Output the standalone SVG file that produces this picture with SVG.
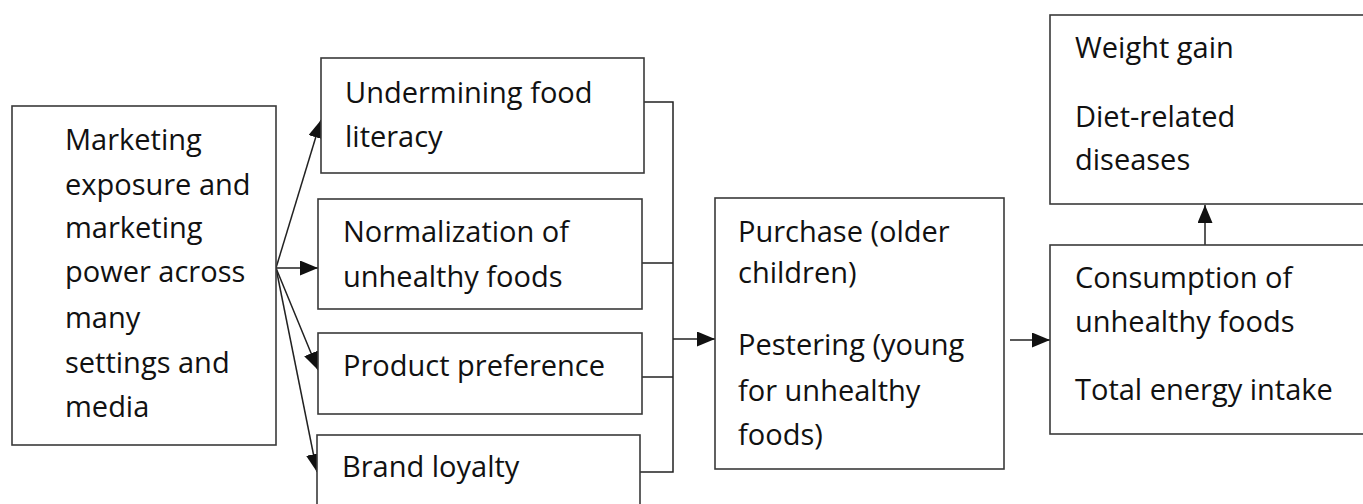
<svg xmlns="http://www.w3.org/2000/svg" width="1363" height="504" viewBox="0 0 1363 504">
<defs>
<style>
.box{fill:#fff;stroke:#3a3a3a;stroke-width:1.6}
.t{font-family:"Open Sans","Noto Sans",sans-serif;font-size:29px;fill:#111}
.c{fill:none;stroke:#222;stroke-width:1.5}
</style>
<marker id="ah" viewBox="0 0 18 15" refX="18" refY="7.5" markerWidth="18" markerHeight="15" markerUnits="userSpaceOnUse" orient="auto">
<path d="M0,0 L18,7.5 L0,15 Z" fill="#111"/>
</marker>
</defs>
<rect width="1363" height="504" fill="#fff"/>
<g id="connectors">
<line class="c" x1="276" y1="268" x2="321" y2="120" marker-end="url(#ah)"/>
<line class="c" x1="276" y1="268" x2="318" y2="268" marker-end="url(#ah)"/>
<line class="c" x1="276" y1="268" x2="318" y2="370" marker-end="url(#ah)"/>
<line class="c" x1="276" y1="268" x2="317" y2="472" marker-end="url(#ah)"/>
<polyline class="c" points="644,102 673,102 673,472 640,472"/>
<line class="c" x1="642" y1="263" x2="673" y2="263"/>
<line class="c" x1="642" y1="377" x2="673" y2="377"/>
<line class="c" x1="673" y1="339" x2="715" y2="339" marker-end="url(#ah)"/>
<line class="c" x1="1010" y1="340" x2="1050" y2="340" marker-end="url(#ah)"/>
<line class="c" x1="1205" y1="245" x2="1205" y2="205" marker-end="url(#ah)"/>
</g>
<g id="marketing">
<rect class="box" x="12" y="106" width="264" height="339"/>
<text class="t" x="65" y="150">Marketing</text>
<text class="t" x="65" y="195">exposure and</text>
<text class="t" x="65" y="238">marketing</text>
<text class="t" x="65" y="282">power across</text>
<text class="t" x="65" y="328">many</text>
<text class="t" x="65" y="373">settings and</text>
<text class="t" x="65" y="417">media</text>
</g>
<g id="undermining">
<rect class="box" x="321" y="58" width="323" height="115"/>
<text class="t" x="345" y="103">Undermining food</text>
<text class="t" x="345" y="147">literacy</text>
</g>
<g id="normalization">
<rect class="box" x="318" y="199" width="324" height="110"/>
<text class="t" x="343" y="242">Normalization of</text>
<text class="t" x="343" y="287">unhealthy foods</text>
</g>
<g id="preference">
<rect class="box" x="318" y="333" width="324" height="81"/>
<text class="t" x="343" y="376">Product preference</text>
</g>
<g id="loyalty">
<rect class="box" x="317" y="435" width="323" height="90"/>
<text class="t" x="342" y="477">Brand loyalty</text>
</g>
<g id="purchase">
<rect class="box" x="715" y="198" width="289" height="271"/>
<text class="t" x="738" y="242">Purchase (older</text>
<text class="t" x="738" y="283">children)</text>
<text class="t" x="738" y="355">Pestering (young</text>
<text class="t" x="738" y="401">for unhealthy</text>
<text class="t" x="738" y="445">foods)</text>
</g>
<g id="consumption">
<rect class="box" x="1050" y="245" width="330" height="189"/>
<text class="t" x="1075" y="288">Consumption of</text>
<text class="t" x="1075" y="332">unhealthy foods</text>
<text class="t" x="1075" y="400">Total energy intake</text>
</g>
<g id="outcomes">
<rect class="box" x="1050" y="15" width="330" height="189"/>
<text class="t" x="1075" y="58">Weight gain</text>
<text class="t" x="1075" y="127">Diet-related</text>
<text class="t" x="1075" y="170">diseases</text>
</g>
</svg>
